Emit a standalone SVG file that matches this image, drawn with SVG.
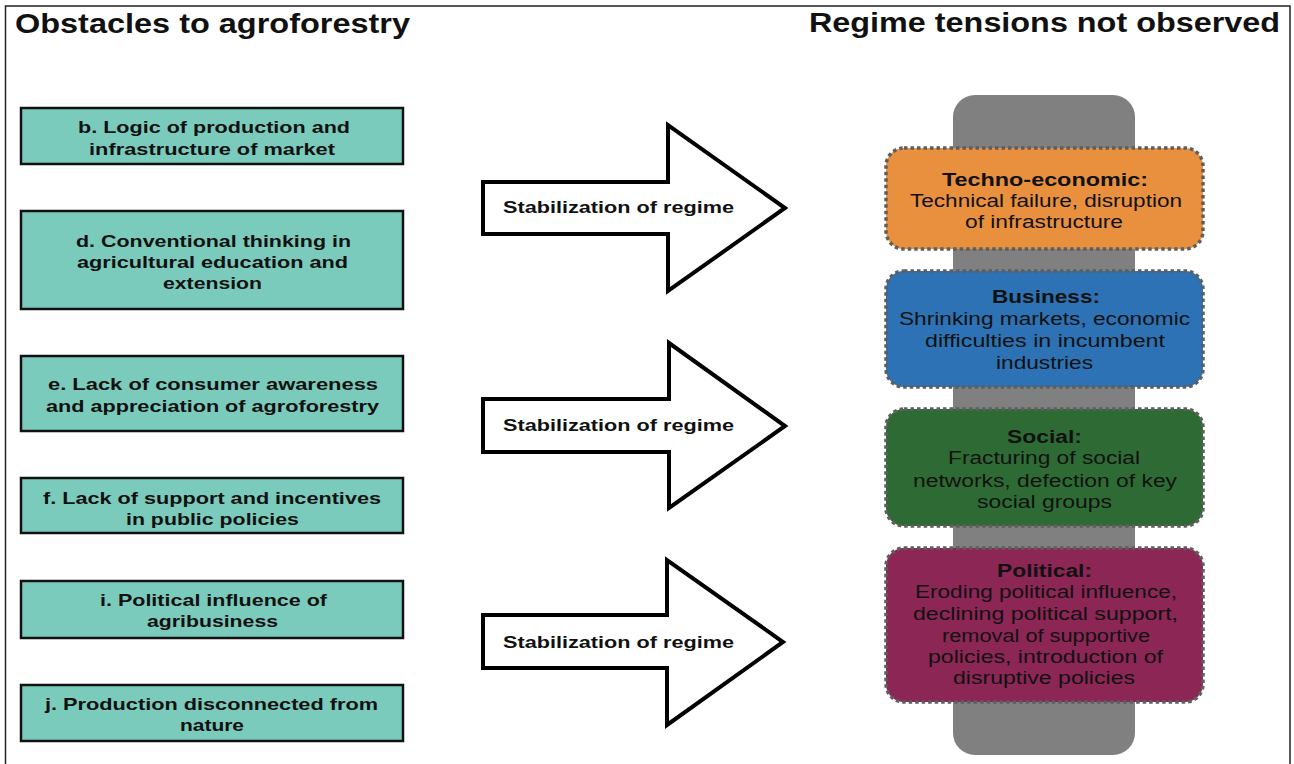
<svg xmlns="http://www.w3.org/2000/svg" width="1294" height="764" viewBox="0 0 1294 764">
<style>
text{font-family:"Liberation Sans",Arial,sans-serif;fill:#111;text-anchor:middle}
.title{font-size:27px;font-weight:bold}
.ob{font-size:17px;font-weight:bold}
.lab{font-size:17px;font-weight:bold}
.th{font-size:17.5px;font-weight:bold}
.tb{font-size:17.5px}
.obox{fill:#7BCBBC;stroke:#111;stroke-width:2.5}
.arrow{fill:#fff;stroke:#000;stroke-width:4;stroke-linejoin:miter}
.tbox{stroke:#5e5e5e;stroke-width:3.5;stroke-dasharray:3.5 3}
</style>
<rect x="0" y="0" width="1294" height="764" fill="#fff"/>
<rect x="5.5" y="6" width="1284.5" height="780" fill="none" stroke="#222" stroke-width="1.5"/>
<text class="title" x="212.5" y="33" textLength="395" lengthAdjust="spacingAndGlyphs">Obstacles to agroforestry</text>
<text class="title" x="1044.5" y="32" textLength="471" lengthAdjust="spacingAndGlyphs">Regime tensions not observed</text>
<rect id="column" x="953" y="95" width="182" height="660" rx="22" fill="#808080"/>
<g id="connectors">
<g id="arrow1"><polygon class="arrow" points="483,182 668,182 668,125 785,208 668,291 668,234 483,234"/>
<text class="lab" x="618.5" y="213" textLength="231" lengthAdjust="spacingAndGlyphs">Stabilization of regime</text></g>
<g id="arrow2"><polygon class="arrow" points="483,399 669,399 669,343 785,426 669,508 669,452 483,452"/>
<text class="lab" x="618.5" y="431" textLength="231" lengthAdjust="spacingAndGlyphs">Stabilization of regime</text></g>
<g id="arrow3"><polygon class="arrow" points="483,615 667,615 667,560 783,642 667,725 667,668 483,668"/>
<text class="lab" x="618.5" y="648" textLength="231" lengthAdjust="spacingAndGlyphs">Stabilization of regime</text></g>
</g>
<g id="obstacle-b"><rect class="obox" x="21" y="108" width="382" height="56"/>
<text class="ob" x="214" y="133" textLength="272" lengthAdjust="spacingAndGlyphs">b. Logic of production and</text>
<text class="ob" x="212" y="155" textLength="246" lengthAdjust="spacingAndGlyphs">infrastructure of market</text></g>
<g id="obstacle-d"><rect class="obox" x="21" y="211" width="382" height="98"/>
<text class="ob" x="213.5" y="247" textLength="275" lengthAdjust="spacingAndGlyphs">d. Conventional thinking in</text>
<text class="ob" x="212.5" y="268" textLength="271" lengthAdjust="spacingAndGlyphs">agricultural education and</text>
<text class="ob" x="212.5" y="289" textLength="99" lengthAdjust="spacingAndGlyphs">extension</text></g>
<g id="obstacle-e"><rect class="obox" x="21" y="356" width="382" height="75"/>
<text class="ob" x="213" y="390" textLength="330" lengthAdjust="spacingAndGlyphs">e. Lack of consumer awareness</text>
<text class="ob" x="212.5" y="412" textLength="333" lengthAdjust="spacingAndGlyphs">and appreciation of agroforestry</text></g>
<g id="obstacle-f"><rect class="obox" x="21" y="478" width="382" height="55"/>
<text class="ob" x="212" y="504" textLength="338" lengthAdjust="spacingAndGlyphs">f. Lack of support and incentives</text>
<text class="ob" x="212.5" y="525" textLength="173" lengthAdjust="spacingAndGlyphs">in public policies</text></g>
<g id="obstacle-i"><rect class="obox" x="21" y="581" width="382" height="57"/>
<text class="ob" x="213.5" y="606" textLength="227" lengthAdjust="spacingAndGlyphs">i. Political influence of</text>
<text class="ob" x="212.5" y="627" textLength="131" lengthAdjust="spacingAndGlyphs">agribusiness</text></g>
<g id="obstacle-j"><rect class="obox" x="21" y="685" width="382" height="56"/>
<text class="ob" x="211.5" y="710" textLength="333" lengthAdjust="spacingAndGlyphs">j. Production disconnected from</text>
<text class="ob" x="212" y="731" textLength="64" lengthAdjust="spacingAndGlyphs">nature</text></g>
<g id="techno-economic"><rect class="tbox" x="886" y="148" width="317" height="101" rx="18" fill="#E8903E"/>
<text class="th" x="1045" y="186" textLength="206" lengthAdjust="spacingAndGlyphs">Techno-economic:</text>
<text class="tb" x="1046" y="207" textLength="272" lengthAdjust="spacingAndGlyphs">Technical failure, disruption</text>
<text class="tb" x="1044" y="228" textLength="158" lengthAdjust="spacingAndGlyphs">of infrastructure</text></g>
<g id="business"><rect class="tbox" x="886" y="271" width="317" height="116" rx="18" fill="#2D72B4"/>
<text class="th" x="1046" y="303" textLength="108" lengthAdjust="spacingAndGlyphs">Business:</text>
<text class="tb" x="1044.5" y="325" textLength="291" lengthAdjust="spacingAndGlyphs">Shrinking markets, economic</text>
<text class="tb" x="1045" y="347" textLength="240" lengthAdjust="spacingAndGlyphs">difficulties in incumbent</text>
<text class="tb" x="1044.5" y="369" textLength="97" lengthAdjust="spacingAndGlyphs">industries</text></g>
<g id="social"><rect class="tbox" x="886" y="409" width="317" height="117" rx="18" fill="#2E6B34"/>
<text class="th" x="1044.5" y="443" textLength="75" lengthAdjust="spacingAndGlyphs">Social:</text>
<text class="tb" x="1044" y="464" textLength="192" lengthAdjust="spacingAndGlyphs">Fracturing of social</text>
<text class="tb" x="1045" y="487" textLength="264" lengthAdjust="spacingAndGlyphs">networks, defection of key</text>
<text class="tb" x="1044.5" y="508" textLength="135" lengthAdjust="spacingAndGlyphs">social groups</text></g>
<g id="political"><rect class="tbox" x="886" y="548" width="317" height="154" rx="18" fill="#8C2655"/>
<text class="th" x="1044.5" y="577" textLength="95" lengthAdjust="spacingAndGlyphs">Political:</text>
<text class="tb" x="1046" y="598" textLength="262" lengthAdjust="spacingAndGlyphs">Eroding political influence,</text>
<text class="tb" x="1045.5" y="620" textLength="265" lengthAdjust="spacingAndGlyphs">declining political support,</text>
<text class="tb" x="1046" y="642" textLength="208" lengthAdjust="spacingAndGlyphs">removal of supportive</text>
<text class="tb" x="1045.5" y="663" textLength="235" lengthAdjust="spacingAndGlyphs">policies, introduction of</text>
<text class="tb" x="1044" y="684" textLength="182" lengthAdjust="spacingAndGlyphs">disruptive policies</text></g>
</svg>
